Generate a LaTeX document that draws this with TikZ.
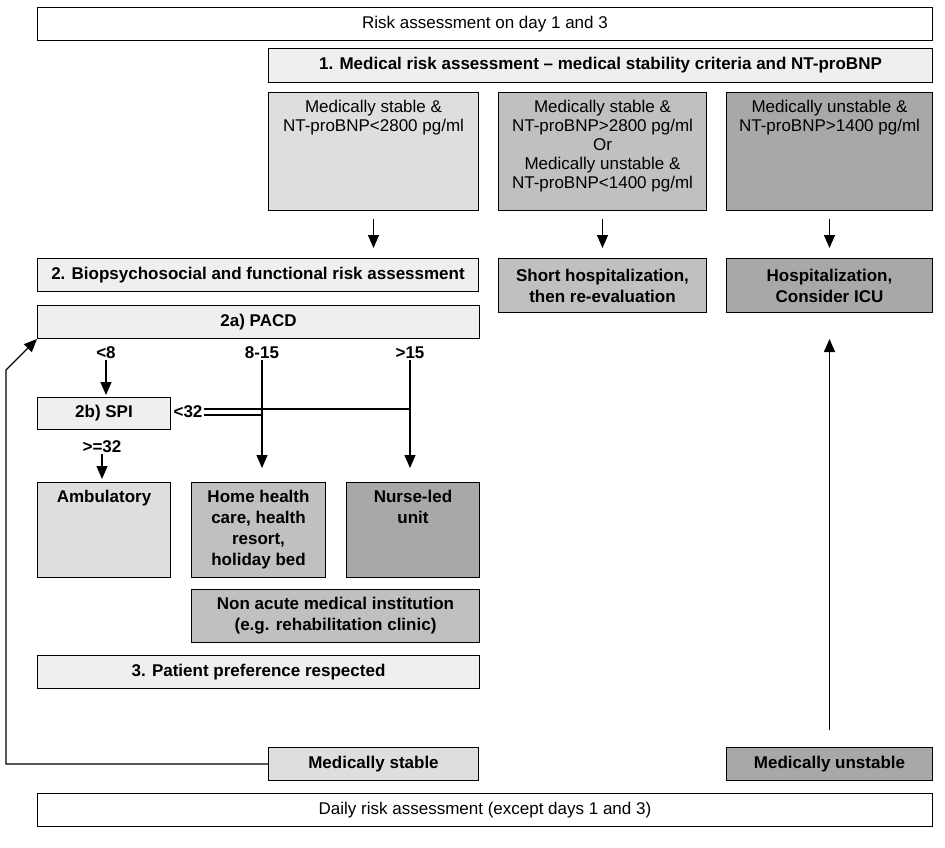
\documentclass[tikz,border=0pt]{standalone}
\usepackage{fontspec}
\setmainfont{Liberation Sans}
\usepackage{tikz}
\usetikzlibrary{arrows.meta}
\definecolor{hatchgray}{HTML}{EFEFEF}
\definecolor{stablegray}{HTML}{DEDEDE}
\definecolor{midgray}{HTML}{C0C0C0}
\definecolor{unstablegray}{HTML}{A8A8A8}
\newcommand{\topcell}[3]{\parbox[c][#1][t]{#2}{\centering\rule{0pt}{20pt}#3}}

\begin{document}
\begin{tikzpicture}[x=1pt,y=-1pt,
   box/.style={draw,line width=1pt,anchor=north west,inner sep=0pt,align=center},
   plain/.style={box,fill=white,font=\fontsize{17}{19}\selectfont},
   hatch/.style={box,fill=hatchgray,font=\fontsize{17}{21}\selectfont\bfseries},
   crit/.style={box,font=\fontsize{17}{19}\selectfont},
   care/.style={box,font=\fontsize{17}{21}\selectfont\bfseries},
   lbl/.style={inner sep=1pt,font=\fontsize{17}{19}\selectfont\bfseries},
   arr/.style={line width=1.3pt,-{Triangle[length=13pt,width=11pt]}},
   link/.style={line width=1.3pt}]
   \useasboundingbox (0,0) rectangle (945,848);

   \node[plain,minimum width=895pt,minimum height=33pt] (day13) at (37,7) {Risk assessment on day 1 and 3};
   \node[hatch,minimum width=664pt,minimum height=34pt] (medrisk) at (268,48)
      {1. Medical risk assessment -- medical stability criteria and NT-proBNP};

   \node[crit,fill=stablegray] (crit1) at (268,92)
      {\topcell{118pt}{210pt}{Medically stable \&\\NT-proBNP<2800 pg/ml}};
   \node[crit,fill=midgray] (crit2) at (498,92)
      {\topcell{118pt}{208pt}{Medically stable \&\\NT-proBNP>2800 pg/ml\\Or\\Medically unstable \&\\NT-proBNP<1400 pg/ml}};
   \node[crit,fill=unstablegray] (crit3) at (726,92)
      {\topcell{118pt}{206pt}{Medically unstable \&\\NT-proBNP>1400 pg/ml}};

   \node[hatch,minimum width=441pt,minimum height=33pt] (bio) at (37,258)
      {2. Biopsychosocial and functional risk assessment};
   \node[care,fill=midgray,minimum width=208pt,minimum height=54pt] (short) at (498,258)
      {Short hospitalization,\\then re-evaluation};
   \node[care,fill=unstablegray,minimum width=206pt,minimum height=54pt] (icu) at (726,258)
      {Hospitalization,\\Consider ICU};

   \node[hatch,minimum width=442pt,minimum height=33pt] (pacd) at (37,305) {2a) PACD};
   \node[lbl] (lt8) at (106,353) {<8};
   \node[lbl] (r815) at (262,353) {8-15};
   \node[lbl] (gt15) at (410,353) {>15};

   \node[hatch,minimum width=133pt,minimum height=32pt] (spi) at (37,397) {2b) SPI};
   \node[lbl] (lt32) at (188,412) {<32};
   \node[lbl] (ge32) at (102,447) {>=32};

   \node[care,fill=stablegray] (amb) at (37,482) {\topcell{95pt}{133pt}{Ambulatory}};
   \node[care,fill=midgray] (home) at (191,482)
      {\topcell{95pt}{134pt}{Home health\\care, health\\resort,\\holiday bed}};
   \node[care,fill=unstablegray] (nurse) at (346,482) {\topcell{95pt}{133pt}{Nurse-led\\unit}};
   \node[care,fill=midgray,minimum width=288pt,minimum height=53pt] (nonacute) at (191,589)
      {Non acute medical institution\\(e.g. rehabilitation clinic)};
   \node[hatch,minimum width=442pt,minimum height=33pt] (pref) at (37,655) {3. Patient preference respected};

   \node[care,fill=stablegray,minimum width=210pt,minimum height=33pt] (stable) at (268,747) {Medically stable};
   \node[care,fill=unstablegray,minimum width=206pt,minimum height=33pt] (unstable) at (726,747) {Medically unstable};
   \node[plain,minimum width=895pt,minimum height=33pt] (daily) at (37,793)
      {Daily risk assessment (except days 1 and 3)};

   \draw[arr,shorten <=8pt,shorten >=10pt] (crit1.south) -- (crit1.south |- bio.north);
   \draw[arr,shorten <=8pt,shorten >=10pt] (crit2.south) -- (short.north);
   \draw[arr,shorten <=8pt,shorten >=10pt] (crit3.south) -- (icu.north);

   \draw[arr,shorten >=2pt] (lt8.south) -- (lt8.south |- spi.north);
   \draw[arr,shorten >=3pt] (ge32.south) -- (ge32.south |- amb.north);
   \draw[arr,shorten >=14pt] (r815.south) -- (r815.south |- home.north);
   \draw[arr,shorten >=14pt] (gt15.south) -- (gt15.south |- nurse.north);
   \draw[link] ([yshift=3pt]lt32.east) -- ([yshift=3pt]lt32.east -| gt15.south);
   \draw[link] ([yshift=-3pt]lt32.east) -- ([yshift=-3pt]lt32.east -| r815.south);

   % back to the start
   \coordinate (fbbot) at (6,764);
   \coordinate (fbtop) at (6,370);
   \draw[arr] (stable.west) -- (fbbot) -- (fbtop) -- (pacd.south west);
   \draw[arr,shorten <=17pt,shorten >=26pt] (unstable.north) -- (unstable.north |- icu.south);
\end{tikzpicture}
\end{document}
